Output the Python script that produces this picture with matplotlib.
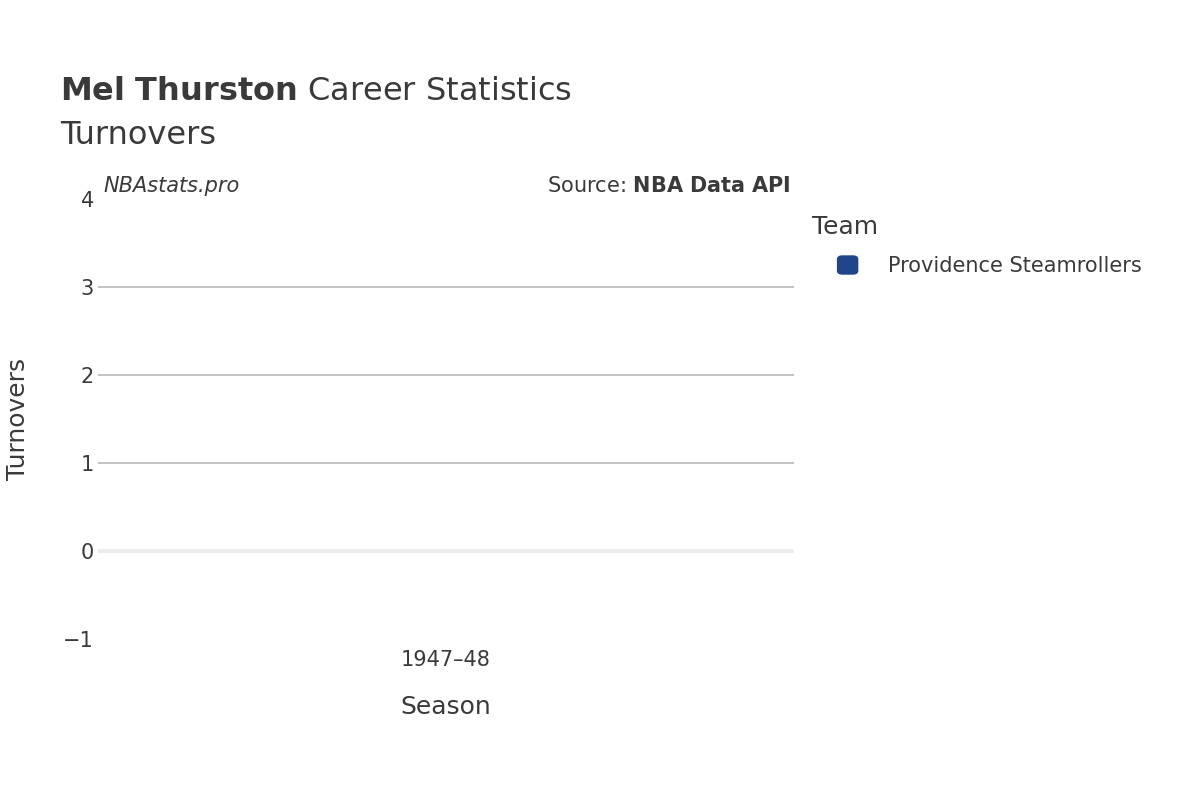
import matplotlib.pyplot as plt
from matplotlib.patches import FancyBboxPatch

seasons = ['1947–48']
turnovers = [0]
team = 'Providence Steamrollers'
team_color = '#1f4488'

plt.rcParams['font.family'] = ['DejaVu Sans']
txt = '#3a3a3a'

fig = plt.figure(figsize=(12, 8), dpi=100)
ax = fig.add_axes([0.0817, 0.20125, 0.58, 0.55])

ax.bar(range(len(seasons)), turnovers, color=team_color, width=0.6)
ax.set_xlim(-0.5, len(seasons) - 0.5)
ax.set_ylim(-1, 4)
for y in [1, 2, 3]:
    ax.axhline(y, color='#bdbdbd', lw=1.3, zorder=0)
ax.axhline(0, color='#ececec', lw=3, zorder=0)

for s in ax.spines.values():
    s.set_visible(False)
ax.set_xticks(range(len(seasons)))
ax.set_xticklabels(seasons, fontsize=15, color=txt)
ax.set_yticks([-1, 0, 1, 2, 3, 4])
ax.set_yticklabels(['−1', '0', '1', '2', '3', '4'], fontsize=15, color=txt)
ax.tick_params(length=0, pad=3)
ax.tick_params(axis='x', pad=8)
ax.set_xlabel('Season', fontsize=18, color=txt, labelpad=18)
fig.text(0.015, 0.476, 'Turnovers', fontsize=18, color=txt, rotation=90, va='center', ha='center')

fig.text(0.05, 0.875, r'$\bf{Mel\ Thurston}$ Career Statistics', fontsize=23, color=txt)
fig.text(0.05, 0.82, 'Turnovers', fontsize=23, color=txt)
fig.text(0.086, 0.76, 'NBAstats.pro', fontsize=15, color=txt, style='italic')
fig.text(0.659, 0.76, r'Source: $\bf{NBA\ Data\ API}$', fontsize=15, color=txt, ha='right')

fig.text(0.677, 0.707, 'Team', fontsize=18, color=txt)
fig.patches.append(FancyBboxPatch((0.698, 0.6575), 0.0167, 0.0225, boxstyle='round,pad=0,rounding_size=0.004',
                                  transform=fig.transFigure, color=team_color))
fig.text(0.74, 0.667, team, fontsize=15, color=txt, va='center')

fig.savefig('out.png')
